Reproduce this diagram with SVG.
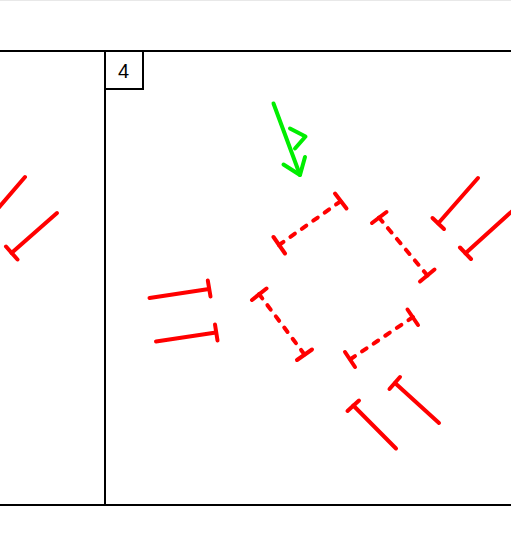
<svg xmlns="http://www.w3.org/2000/svg" width="511" height="540" viewBox="0 0 511 540">
<style>
.frame{stroke:#000;stroke-width:2;fill:none}
.red{stroke:#ff0000;stroke-width:4;stroke-linecap:round;fill:none}
.dash{stroke-dasharray:5.5 8.5}
.green{stroke:#00ee00;stroke-width:4;stroke-linecap:round;stroke-linejoin:round;fill:none}
.lbl{font-family:"Liberation Sans",Arial,sans-serif;font-size:20px;fill:#000}
</style>
<rect x="0" y="0" width="511" height="540" fill="#fff"/>
<line x1="0" y1="0.5" x2="511" y2="0.5" stroke="#e8e8e8" stroke-width="1"/>
<g id="frame">
<line class="frame" x1="0" y1="51" x2="511" y2="51"/>
<line class="frame" x1="0" y1="505" x2="511" y2="505"/>
<line class="frame" x1="105" y1="51" x2="105" y2="505"/>
</g>
<g id="label4">
<rect class="frame" x="105" y="51" width="38" height="38"/>
<text class="lbl" x="123.5" y="77.7" text-anchor="middle">4</text>
</g>
<g id="connectors">
<g id="green-arrow">
<line class="green" x1="273.5" y1="103.5" x2="300" y2="175"/>
<polyline class="green" points="283.5,164.5 300,175 305,157"/>
<polyline class="green" points="290,128.5 305.5,136.5 295,148.5"/>
</g>
<g id="left-panel">
<line class="red" x1="25" y1="177" x2="-5" y2="212"/>
<line class="red" x1="57" y1="213" x2="11.5" y2="253"/>
<line class="red" x1="6" y1="246.5" x2="17.5" y2="259.5"/>
</g>
<g id="dashed1">
<line class="red dash" x1="279" y1="245" x2="341" y2="201"/>
<line class="red" x1="273.5" y1="237" x2="285" y2="253.5"/>
<line class="red" x1="335" y1="193.5" x2="346.5" y2="208.5"/>
</g>
<g id="dashed2">
<line class="red dash" x1="379" y1="217.5" x2="427.5" y2="275.5"/>
<line class="red" x1="372" y1="223" x2="386.5" y2="212"/>
<line class="red" x1="420" y1="281.5" x2="434.5" y2="269.5"/>
</g>
<g id="dashed3">
<line class="red dash" x1="259" y1="294" x2="304.5" y2="354.5"/>
<line class="red" x1="252" y1="300" x2="266.5" y2="288.5"/>
<line class="red" x1="297" y1="360" x2="312" y2="349.5"/>
</g>
<g id="dashed4">
<line class="red dash" x1="413" y1="317" x2="350" y2="359.5"/>
<line class="red" x1="407.5" y1="309.5" x2="418" y2="325"/>
<line class="red" x1="345" y1="352" x2="355" y2="367"/>
</g>
<g id="solid-left1">
<line class="red" x1="149.5" y1="298" x2="209" y2="289"/>
<line class="red" x1="207.8" y1="280.5" x2="210.5" y2="296.5"/>
</g>
<g id="solid-left2">
<line class="red" x1="156" y1="341.5" x2="216" y2="332.5"/>
<line class="red" x1="215" y1="324.5" x2="217.5" y2="340.5"/>
</g>
<g id="solid-right1">
<line class="red" x1="478" y1="178" x2="438.3" y2="223.3"/>
<line class="red" x1="432.5" y1="218" x2="444" y2="229"/>
</g>
<g id="solid-right2">
<line class="red" x1="520" y1="204" x2="465.5" y2="253.3"/>
<line class="red" x1="460" y1="247.5" x2="471" y2="259"/>
</g>
<g id="solid-bottom1">
<line class="red" x1="439" y1="423" x2="395" y2="383"/>
<line class="red" x1="389.5" y1="389" x2="400" y2="377"/>
</g>
<g id="solid-bottom2">
<line class="red" x1="396" y1="448.5" x2="353.3" y2="405.5"/>
<line class="red" x1="347.5" y1="411" x2="359" y2="400.5"/>
</g>
</g>
</svg>
